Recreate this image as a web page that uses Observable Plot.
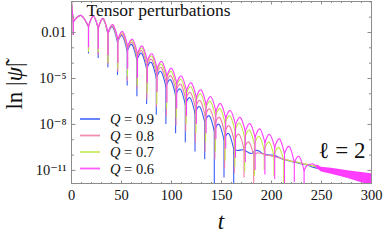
<!DOCTYPE html>
<html><head><meta charset="utf-8">
<script src="https://cdn.jsdelivr.net/npm/d3@7"></script>
<script src="https://cdn.jsdelivr.net/npm/@observablehq/plot@0.6"></script>
<style>
html,body{margin:0;padding:0;background:#fff;}
#chart{position:relative;width:383px;height:240px;}
</style></head><body><div id="chart"></div>
<script>
// ---- data (values are log10 |psi|) ----
const startT = 0, startV = -0.05;

const blueDipT  = [1.8, 17, 26.7, 36.4, 46.0, 55.7, 65.4, 75.1, 84.8, 94.4, 104.1, 113.8, 123.5, 133.2, 142.8, 152.5, 162.2];
const blueRim   = [-1.3, -1.62, -1.73, -2.09, -2.64, -3.21, -3.79, -4.37, -4.96, -5.53, -6.1, -6.69, -7.26, -7.85, -8.43, -9.0, -9.6];
const blueLow   = [-2.2, -3.4, -3.7, -4.3, -4.8, -5.5, -6.2, -6.7, -7.4, -8.0, -8.6, -9.2, -9.8, -10.3, -12, -11.5, -12];
const bluePeakT = [9.5, 21.85, 31.55, 41.2, 50.85, 60.55, 70.25, 79.95, 89.6, 99.25, 108.95, 118.65, 128.35, 138.0, 147.65, 157.35];
const bluePeakV = [-0.89, -0.94, -1.12, -1.65, -2.22, -2.8, -3.37, -3.96, -4.55, -5.1, -5.7, -6.27, -6.85, -7.45, -8.0, -8.6];
const blueTailT = [162.2, 166, 171, 176, 180, 184, 188, 191, 197, 202, 209, 216, 222, 229, 236, 242, 250];
const blueTailV = [-9.6, -9.7, -9.65, -9.8, -9.9, -9.7, -9.75, -9.9, -10.0, -10.0, -10.2, -10.35, -10.45, -10.56, -10.65, -10.8, -10.9];

const pinkDipT  = [1.8, 17, 26.7, 36.4, 46.2, 55.9, 65.6, 75.3, 85.0, 94.8, 104.5, 114.2, 123.9, 133.6, 143.4, 153.1, 162.8, 172.5, 182.2];
const pinkRim   = [-1.3, -1.61, -1.72, -2.05, -2.57, -3.11, -3.64, -4.18, -4.73, -5.27, -5.81, -6.35, -6.89, -7.43, -7.98, -8.53, -9.08, -9.6, -10.0];
const pinkLow   = [-2.2, -3.2, -3.5, -4.1, -4.6, -5.2, -5.7, -6.4, -6.9, -7.5, -8.1, -8.5, -9.2, -9.8, -10.3, -10.9, -11.2, -11.5, -12];
const pinkPeakT = [9.5, 21.85, 31.55, 41.3, 51.05, 60.75, 70.45, 80.15, 89.9, 99.65, 109.35, 119.05, 128.75, 138.5, 148.25, 157.95, 167.65, 177.35];
const pinkPeakV = [-0.89, -0.93, -1.1, -1.6, -2.14, -2.67, -3.2, -3.76, -4.3, -4.83, -5.38, -5.92, -6.45, -7.0, -7.55, -8.1, -8.65, -9.15];
const pinkTailT = [182.2, 186, 190, 195, 200, 206, 212, 218, 225, 232, 240, 248];
const pinkTailV = [-10.0, -9.85, -9.9, -10.0, -10.05, -10.15, -10.25, -10.35, -10.45, -10.55, -10.68, -10.8];

const greenDipT  = [1.8, 17, 26.8, 36.5, 46.3, 56.0, 65.8, 75.6, 85.3, 95.1, 104.8, 114.6, 124.4, 134.1, 143.9, 153.6, 163.4, 173.2, 182.9, 192.7, 202.4, 212.2];
const greenRim   = [-1.3, -1.61, -1.72, -2.03, -2.49, -2.99, -3.49, -3.99, -4.51, -5.01, -5.52, -6.02, -6.49, -6.96, -7.44, -7.92, -8.39, -8.86, -9.28, -9.67, -10.03, -10.3];
const greenLow   = [-2.2, -3.3, -3.3, -4.0, -4.4, -4.9, -5.5, -6.0, -6.7, -7.0, -7.6, -8.0, -8.6, -9.2, -9.8, -10.4, -10.8, -11.1, -11.4, -11.0, -11.4, -11.9];
const greenPeakT = [9.5, 21.9, 31.65, 41.4, 51.15, 60.9, 70.7, 80.45, 90.2, 99.95, 109.7, 119.5, 129.25, 139.0, 148.75, 158.5, 168.3, 178.05, 187.8, 197.55, 207.3];
const greenPeakV = [-0.89, -0.93, -1.1, -1.55, -2.03, -2.55, -3.02, -3.55, -4.07, -4.55, -5.08, -5.55, -6.02, -6.5, -6.98, -7.45, -7.93, -8.38, -8.78, -9.15, -9.5];
const greenTailT = [212.2, 216, 220, 225, 230, 236, 242, 248];
const greenTailV = [-10.3, -10.32, -10.42, -10.45, -10.55, -10.62, -10.72, -10.8];

const magentaDipT  = [1.8, 17, 26.8, 36.6, 46.4, 56.2, 66, 75.8, 85.6, 95.4, 105.2, 115, 124.8, 134.6, 144.4, 154.2, 164, 173.8, 183.6, 193.4, 203.2, 213, 222.8, 232.6];
const magentaRim   = [-1.3, -1.6, -1.7, -2.0, -2.43, -2.9, -3.38, -3.85, -4.35, -4.83, -5.3, -5.78, -6.23, -6.68, -7.13, -7.58, -8.03, -8.45, -8.83, -9.18, -9.5, -9.9, -10.48, -11.0];
const magentaLow   = [-2.2, -3.0, -3.1, -3.5, -4.0, -4.4, -5.0, -5.3, -5.9, -6.6, -7.0, -7.5, -8.0, -8.6, -9.0, -9.6, -10.2, -10.5, -11.0, -11.3, -11.6, -12, -11.8, -11.85];
const magentaPeakT = [9.5, 21.9, 31.7, 41.5, 51.3, 61.1, 70.9, 80.7, 90.5, 100.3, 110.1, 119.9, 129.7, 139.5, 149.3, 159.1, 168.9, 178.7, 188.5, 198.3, 208.1, 217.9, 227.7];
const magentaPeakV = [-0.89, -0.92, -1.08, -1.5, -1.95, -2.45, -2.9, -3.4, -3.9, -4.35, -4.85, -5.3, -5.75, -6.2, -6.65, -7.1, -7.55, -7.95, -8.3, -8.65, -8.95, -9.45, -10.1];
const magentaTailT = [232.6, 235.5, 238, 241, 244, 247];
const magentaTailV = [-11.0, -10.68, -10.62, -10.57, -10.68, -10.72];
const magentaBandT  = [245, 250, 260, 270, 280, 290, 300];
const magentaBandHi = [-10.65, -10.79, -10.86, -10.95, -11.05, -11.13, -11.22];
const magentaBandLo = [-10.85, -11.1, -11.25, -11.42, -11.6, -11.8, -11.98];

const legendLabels = ["0.9", "0.8", "0.7", "0.6"];
const seriesColors = ["#3a5cf6", "#f07aa6", "#bfe648", "#ff3cff"];

const xMajorTicks = [0, 50, 100, 150, 200, 250, 300];
const xMinorTicks = [10, 20, 30, 40, 60, 70, 80, 90, 110, 120, 130, 140, 160, 170, 180, 190, 210, 220, 230, 240, 260, 270, 280, 290];
const yLabelTicks = [1e-2, 1e-5, 1e-8, 1e-11];
const yLabelText  = ["0.01", "10\u207B\u2075", "10\u207B\u2078", "10\u207B\u00B9\u00B9"];
const yMinorTicks = [1, 1e-1, 1e-3, 1e-4, 1e-6, 1e-7, 1e-9, 1e-10];

const titleText = "Tensor perturbations";
const ellText = "\u2113 = 2";

// ---- build ----
const series = [
  {dipT: blueDipT, rim: blueRim, low: blueLow, peakT: bluePeakT, peakV: bluePeakV, tailT: blueTailT, tailV: blueTailV},
  {dipT: pinkDipT, rim: pinkRim, low: pinkLow, peakT: pinkPeakT, peakV: pinkPeakV, tailT: pinkTailT, tailV: pinkTailV},
  {dipT: greenDipT, rim: greenRim, low: greenLow, peakT: greenPeakT, peakV: greenPeakV, tailT: greenTailT, tailV: greenTailV},
  {dipT: magentaDipT, rim: magentaRim, low: magentaLow, peakT: magentaPeakT, peakV: magentaPeakV, tailT: magentaTailT, tailV: magentaTailV}
].map((s, i) => ({...s, color: seriesColors[i], label: legendLabels[i]}));

function lobes(s) {
  const out = [{lobe: -1, t: startT, v: startV}, {lobe: -1, t: s.dipT[0], v: s.rim[0]}];
  s.peakT.forEach((pt, k) => {
    out.push({lobe: k, t: s.dipT[k], v: s.rim[k]},
             {lobe: k, t: pt, v: s.peakV[k]},
             {lobe: k, t: s.dipT[k + 1], v: s.rim[k + 1]});
  });
  return out;
}

const pow = d => Math.pow(10, d);
const sw = 1.1;
const gray = "#8c8c8c";
const serif = '"Liberation Serif", "DejaVu Serif", serif';

const dataMarks = [];
series.forEach(s => {
  dataMarks.push(
    Plot.line(lobes(s), {x: "t", y: d => pow(d.v), z: "lobe", curve: "natural", stroke: s.color, strokeWidth: sw, clip: true}),
    Plot.ruleX(s.dipT.map((t, k) => ({t, a: s.rim[k], b: s.low[k]})), {x: "t", y1: d => pow(d.a), y2: d => pow(d.b), stroke: s.color, strokeWidth: sw, clip: true}),
    Plot.line(s.tailT.map((t, k) => ({t, v: s.tailV[k]})), {x: "t", y: d => pow(d.v), curve: "catmull-rom", stroke: s.color, strokeWidth: sw, clip: true})
  );
});
dataMarks.push(
  Plot.areaY(magentaBandT.map((t, k) => ({t, lo: magentaBandLo[k], hi: magentaBandHi[k]})),
    {x: "t", y1: d => pow(d.lo), y2: d => pow(d.hi), fill: seriesColors[3], clip: true})
);

const chart = Plot.plot({
  width: 383, height: 240,
  marginLeft: 71, marginRight: 12, marginTop: 1, marginBottom: 57,
  x: {domain: [0, 300], label: null},
  y: {type: "log", domain: [1.4e-12, 1.05], label: null},
  style: {fontFamily: serif, fontSize: "14px", background: "#fff", color: "#111"},
  marks: [
    ...dataMarks,
    Plot.frame({stroke: gray}),
    // inward ticks
    Plot.axisY(yMinorTicks, {anchor: "right", frameAnchor: "left", tickSize: 2, fill: "none", stroke: gray, label: null}),
    Plot.axisY(yLabelTicks, {anchor: "right", frameAnchor: "left", tickSize: 3.5, fill: "none", stroke: gray, label: null}),
    Plot.axisY(yMinorTicks, {anchor: "left", frameAnchor: "right", tickSize: 2, fill: "none", stroke: gray, label: null}),
    Plot.axisY(yLabelTicks, {anchor: "left", frameAnchor: "right", tickSize: 3.5, fill: "none", stroke: gray, label: null}),
    Plot.axisX(xMinorTicks, {anchor: "top", frameAnchor: "bottom", tickSize: 2, fill: "none", stroke: gray, label: null}),
    Plot.axisX(xMajorTicks, {anchor: "top", frameAnchor: "bottom", tickSize: 3.5, fill: "none", stroke: gray, label: null}),
    Plot.axisX(xMinorTicks, {anchor: "bottom", frameAnchor: "top", tickSize: 2, fill: "none", stroke: gray, label: null}),
    Plot.axisX(xMajorTicks, {anchor: "bottom", frameAnchor: "top", tickSize: 3.5, fill: "none", stroke: gray, label: null}),
    // labels
    Plot.axisY(yLabelTicks, {anchor: "left", tickSize: 0, tickPadding: 5, tickFormat: d => yLabelText[yLabelTicks.indexOf(d)], fontSize: 14.5, label: null}),
    Plot.axisX(xMajorTicks, {anchor: "bottom", tickSize: 0, tickPadding: 6, fontSize: 14.5, label: null}),
    Plot.text([titleText], {frameAnchor: "top-left", dx: 15, dy: 2, lineAnchor: "top", textAnchor: "start", fontSize: 17.5}),
    Plot.text([ellText], {frameAnchor: "bottom-right", dx: -6, dy: -26, textAnchor: "end", fontSize: 23})
  ]
});
document.getElementById("chart").appendChild(chart);

// axis titles and legend
const svg = d3.select(chart);
const yl = svg.append("text")
  .attr("transform", "translate(22,86) rotate(-90)")
  .attr("text-anchor", "middle").attr("font-size", 23).attr("font-family", serif).attr("fill", "#111");
yl.append("tspan").text("ln |");
yl.append("tspan").attr("font-style", "italic").text("\u03C8\u0303");
yl.append("tspan").text("|");

svg.append("text").attr("x", 221).attr("y", 229).attr("text-anchor", "middle")
  .attr("font-size", 23).attr("font-style", "italic").attr("font-family", serif).attr("fill", "#111").text("t");

const legendY = [119, 135.5, 152, 168.5];
const lg = svg.append("g").attr("font-family", serif).attr("font-size", 14.5).attr("fill", "#111").attr("text-anchor", "start");
series.forEach((s, i) => {
  lg.append("line").attr("x1", 80).attr("x2", 100).attr("y1", legendY[i]).attr("y2", legendY[i])
    .attr("stroke", s.color).attr("stroke-width", 1.8).attr("stroke-opacity", 0.85);
  const tx = lg.append("text").attr("x", 110).attr("y", legendY[i]).attr("dy", "0.35em").attr("text-anchor", "start");
  tx.append("tspan").attr("font-style", "italic").text("Q");
  tx.append("tspan").text(" = " + s.label);
});
</script>
</body></html>
